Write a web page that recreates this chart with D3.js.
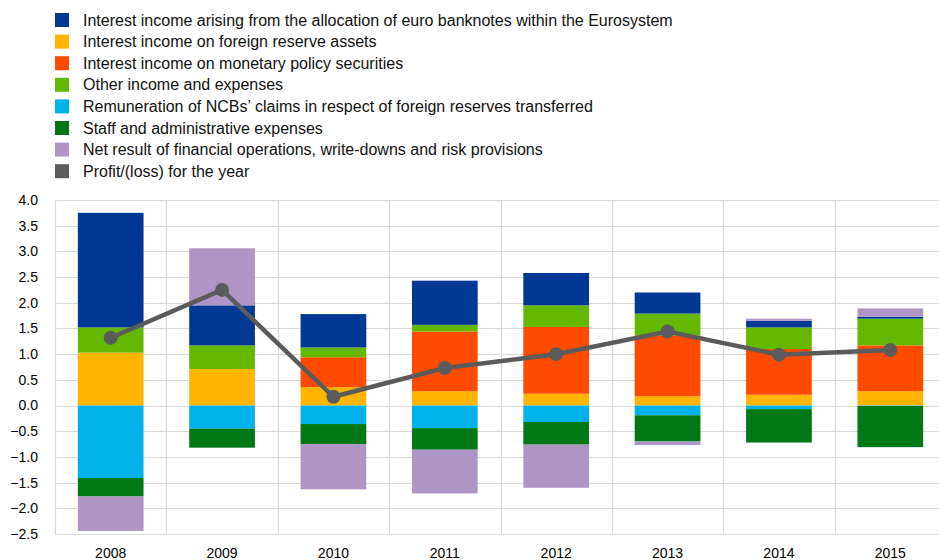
<!DOCTYPE html>
<html>
<head>
<meta charset="utf-8">
<script src="https://cdn.jsdelivr.net/npm/d3@7"></script>
<style>
  body { margin: 0; background: #fff; }
  svg text { font-family: "Liberation Sans", Arial, sans-serif; fill: #000; }
</style>
</head>
<body>
<div id="chart"></div>
<script>
// years on the x axis
var years = ["2008", "2009", "2010", "2011", "2012", "2013", "2014", "2015"];

// EUR billions
var banknotes      = [2.23, 0.78, 0.65, 0.86, 0.63, 0.41, 0.13, 0.04];
var foreignReserve = [1.03, 0.71, 0.36, 0.28, 0.23, 0.18, 0.21, 0.28];
var monetaryPolicy = [0.00, 0.00, 0.58, 1.16, 1.30, 1.18, 0.89, 0.89];
var otherIncome    = [0.49, 0.46, 0.19, 0.13, 0.42, 0.43, 0.42, 0.52];
var remuneration   = [-1.41, -0.45, -0.36, -0.44, -0.32, -0.19, -0.07, -0.01];
var staffCosts     = [-0.36, -0.37, -0.39, -0.42, -0.44, -0.51, -0.65, -0.80];
var netResult      = [-0.67, 1.11, -0.88, -0.85, -0.84, -0.07, 0.04, 0.16];
var profit         = [1.32, 2.25, 0.17, 0.73, 1.00, 1.44, 0.99, 1.08];

var yTicks = [-2.5, -2.0, -1.5, -1.0, -0.5, 0.0, 0.5, 1.0, 1.5, 2.0, 2.5, 3.0, 3.5, 4.0];

// series: legend order, colours
var series = [
  {key: "banknotes", label: "Interest income arising from the allocation of euro banknotes within the Eurosystem", color: "#003894", values: banknotes},
  {key: "foreignReserve", label: "Interest income on foreign reserve assets", color: "#ffb400", values: foreignReserve},
  {key: "monetaryPolicy", label: "Interest income on monetary policy securities", color: "#ff4b00", values: monetaryPolicy},
  {key: "otherIncome", label: "Other income and expenses", color: "#65b800", values: otherIncome},
  {key: "remuneration", label: "Remuneration of NCBs\u2019 claims in respect of foreign reserves transferred", color: "#00b1ea", values: remuneration},
  {key: "staffCosts", label: "Staff and administrative expenses", color: "#007816", values: staffCosts},
  {key: "netResult", label: "Net result of financial operations, write-downs and risk provisions", color: "#af95c6", values: netResult}
];
var profitColor = "#5b5b5b";

// stacking order (bottom up for positives, top down for negatives)
var stackKeys = ["foreignReserve", "monetaryPolicy", "otherIncome", "banknotes", "remuneration", "staffCosts", "netResult"];

var table = years.map(function(y, i) {
  var row = {year: y};
  series.forEach(function(s) { row[s.key] = s.values[i]; });
  return row;
});

var width = 939, height = 560;
var margin = {top: 200, left: 55, bottom: 26};
var plotRight = 946;

var svg = d3.select("#chart").append("svg")
  .attr("width", width)
  .attr("height", height);

var x = d3.scaleBand()
  .domain(years)
  .range([margin.left, plotRight])
  .padding(0);

var y = d3.scaleLinear()
  .domain([-2.5, 4])
  .range([height - margin.bottom, margin.top]);

var color = d3.scaleOrdinal()
  .domain(series.map(function(s) { return s.key; }))
  .range(series.map(function(s) { return s.color; }));

// grid
var grid = svg.append("g").attr("class", "grid");
grid.selectAll("line.h")
  .data(yTicks)
  .enter().append("line")
  .attr("class", "h")
  .attr("x1", margin.left).attr("x2", width)
  .attr("y1", function(d) { return Math.round(y(d)) + 0.5; })
  .attr("y2", function(d) { return Math.round(y(d)) + 0.5; })
  .attr("stroke", "#d9d9d9")
  .attr("stroke-width", 1.2);

grid.selectAll("line.v")
  .data(years)
  .enter().append("line")
  .attr("class", "v")
  .attr("x1", function(d) { return Math.round(x(d)) + 0.5; })
  .attr("x2", function(d) { return Math.round(x(d)) + 0.5; })
  .attr("y1", y(4)).attr("y2", y(-2.5))
  .attr("stroke", "#d9d9d9")
  .attr("stroke-width", 1.2);

// y axis labels
svg.append("g")
  .selectAll("text")
  .data(yTicks)
  .enter().append("text")
  .attr("x", 38)
  .attr("y", function(d) { return y(d); })
  .attr("dy", "0.35em")
  .attr("text-anchor", "end")
  .style("font-size", "14px")
  .text(function(d) { return d3.format(".1f")(d); });

// x axis labels
svg.append("g")
  .selectAll("text")
  .data(years)
  .enter().append("text")
  .attr("x", function(d) { return x(d) + x.bandwidth() / 2; })
  .attr("y", 558)
  .attr("text-anchor", "middle")
  .style("font-size", "14px")
  .text(function(d) { return d; });

// stacked bars
var stacked = d3.stack()
  .keys(stackKeys)
  .offset(d3.stackOffsetDiverging)(table);

var barW = x.bandwidth() * 0.59;

svg.append("g")
  .selectAll("g")
  .data(stacked)
  .enter().append("g")
  .attr("fill", function(d) { return color(d.key); })
  .selectAll("rect")
  .data(function(d) { return d; })
  .enter().append("rect")
  .attr("x", function(d) { return x(d.data.year) + (x.bandwidth() - barW) / 2; })
  .attr("y", function(d) { return y(Math.max(d[0], d[1])); })
  .attr("width", barW)
  .attr("height", function(d) { return Math.abs(y(d[0]) - y(d[1])); });

// profit line
var line = d3.line()
  .x(function(d, i) { return x(years[i]) + x.bandwidth() / 2; })
  .y(function(d) { return y(d); });

svg.append("path")
  .datum(profit)
  .attr("fill", "none")
  .attr("stroke", profitColor)
  .attr("stroke-width", 4.5)
  .attr("d", line);

svg.append("g")
  .selectAll("circle")
  .data(profit)
  .enter().append("circle")
  .attr("cx", function(d, i) { return x(years[i]) + x.bandwidth() / 2; })
  .attr("cy", function(d) { return y(d); })
  .attr("r", 7)
  .attr("fill", profitColor);

// legend
var legendItems = series.map(function(s) { return {label: s.label, color: s.color}; })
  .concat([{label: "Profit/(loss) for the year", color: profitColor}]);

var legend = svg.append("g")
  .selectAll("g")
  .data(legendItems)
  .enter().append("g")
  .attr("transform", function(d, i) { return "translate(55," + (13 + i * 21.6) + ")"; });

legend.append("rect")
  .attr("width", 14).attr("height", 14)
  .attr("fill", function(d) { return d.color; });

legend.append("text")
  .attr("x", 28)
  .attr("y", 7)
  .attr("dy", "0.35em")
  .style("font-size", "16px")
  .style("fill", "#111")
  .text(function(d) { return d.label; });
</script>
</body>
</html>
